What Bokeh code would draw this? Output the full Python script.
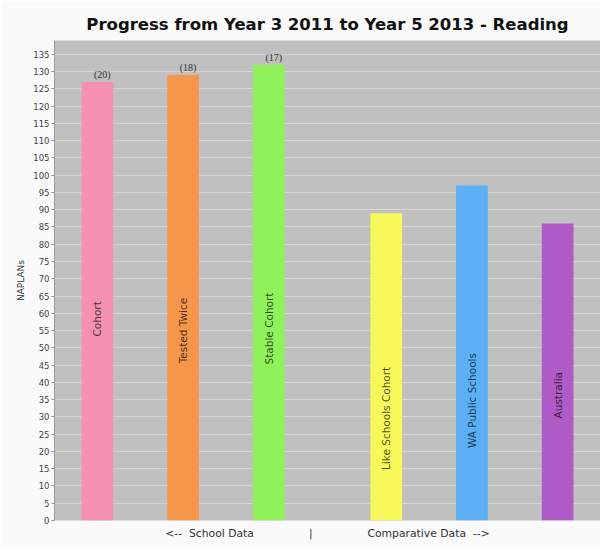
import math
from bokeh.plotting import figure
from bokeh.models import FactorRange, Range1d, SingleIntervalTicker, ColumnDataSource, Title
from bokeh.core.properties import value
from bokeh.embed import file_html
from bokeh.resources import INLINE

# ---- data ----
groups = ["School Data", "School Data", "School Data",
          "Comparative Data", "Comparative Data", "Comparative Data"]
categories = ["Cohort", "Tested Twice", "Stable Cohort",
              "Like Schools Cohort", "WA Public Schools", "Australia"]
scores = [127, 129, 132, 89, 97, 86]
counts = ["(20)", "(18)", "(17)", "", "", ""]
bar_colors = ["#F590B0", "#F5964B", "#8FF25A", "#F8F85A", "#5AAFF5", "#B05CC8"]
title_text = "Progress from Year 3 2011 to Year 5 2013 - Reading"
y_label = "NAPLANs"
sp = "\u00a0"
x_label = "<--" + sp * 2 + "School Data" + sp * 16 + "|" + sp * 16 + "Comparative Data" + sp * 2 + "-->"

factors = list(zip(groups, categories))
source = ColumnDataSource(dict(
    x=factors,
    score=scores,
    mid=[s / 2 for s in scores],
    count=counts,
    category=categories,
    color=bar_colors,
))

p = figure(
    x_range=FactorRange(*factors, group_padding=0.37, range_padding=0),
    y_range=Range1d(0, 139),
    width=600, height=545,
    output_backend="svg", toolbar_location=None,
    min_border_left=54, min_border_right=0, min_border_top=40, min_border_bottom=25,
    title=title_text,
)

p.background_fill_color = "#c0c0c0"
p.border_fill_color = "#fafafa"
p.outline_line_color = None

p.title.align = "center"
p.title.text_font = "DejaVu Sans"
p.title.text_font_size = "16.5px"
p.title.text_font_style = "bold"
p.title.text_color = "#111111"
p.title.standoff = 13

p.vbar(x="x", top="score", width=0.37, source=source,
       fill_color="color", line_color=None)

p.text(x="x", y="score", text="count", source=source,
       x_offset=5, y_offset=-2, text_align="center", text_baseline="bottom",
       text_font=value("Liberation Serif"), text_font_size="10px", text_color="#333333")

p.text(x="x", y="mid", text="category", source=source, angle=math.pi / 2,
       text_align="right", text_baseline="middle",
       text_font=value("DejaVu Sans"), text_font_size="10.5px",
       text_color="black", text_alpha=0.7)

# y axis
p.yaxis.ticker = SingleIntervalTicker(interval=5)
p.yaxis.axis_label = y_label
p.yaxis.axis_label_text_font = "DejaVu Sans"
p.yaxis.axis_label_text_font_size = "9px"
p.yaxis.axis_label_text_font_style = "normal"
p.yaxis.axis_label_text_color = "#333333"
p.yaxis.axis_label_standoff = 4
p.yaxis.major_label_text_font = "DejaVu Sans"
p.yaxis.major_label_text_font_size = "8.5px"
p.yaxis.major_label_text_color = "#444444"
p.yaxis.major_label_standoff = 2
p.yaxis.major_tick_out = 3
p.yaxis.major_tick_in = 0
p.yaxis.minor_tick_out = 0
p.yaxis.minor_tick_in = 0
p.yaxis.axis_line_color = "#999999"
p.yaxis.major_tick_line_color = "#999999"

# x axis: no ticks or labels, only the direction caption below
p.xaxis.visible = False
p.add_layout(Title(text=x_label, align="center", offset=30, standoff=9,
                   text_font="DejaVu Sans", text_font_size="10.8px",
                   text_font_style="normal", text_color="#333333"), "below")

p.xgrid.grid_line_color = None
p.ygrid.grid_line_color = "#d4d4d4"
p.ygrid.grid_line_width = 1

open("out.html", "w").write(file_html(p, INLINE))
